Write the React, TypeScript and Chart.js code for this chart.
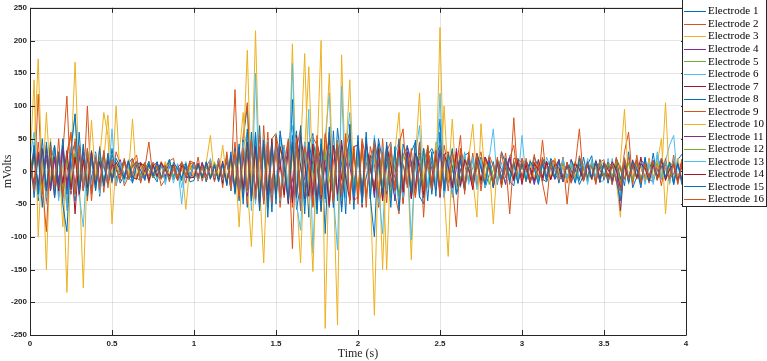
import React, { useEffect, useRef } from "react";
import { Chart, registerables } from "chart.js";
Chart.register(...registerables);

// sample times (s), 0.025 s spacing
const TIME: number[] = Array.from({ length: 161 }, (_, i) => Math.round(i * 25) / 1000);

const X_TICKS = [0, 0.5, 1, 1.5, 2, 2.5, 3, 3.5, 4];
const Y_TICKS = [-250, -200, -150, -100, -50, 0, 50, 100, 150, 200, 250];

const LABELS = [
  "Electrode 1", "Electrode 2", "Electrode 3", "Electrode 4",
  "Electrode 5", "Electrode 6", "Electrode 7", "Electrode 8",
  "Electrode 9", "Electrode 10", "Electrode 11", "Electrode 12",
  "Electrode 13", "Electrode 14", "Electrode 15", "Electrode 16",
];

const COLORS = [
  "#0072BD", "#D95319", "#EDB120", "#7E2F8E", "#77AC30", "#4DBEEE", "#A2142F",
  "#0072BD", "#D95319", "#EDB120", "#7E2F8E", "#77AC30", "#4DBEEE", "#A2142F",
  "#0072BD", "#D95319",
];

const E1 = [
  -20, 35, -45, 28, -30, 15, 40, -25, 30, -55, 22, 45, -38, 20, -15, 32, -28, 18, 10, -22,
  25, 8, -18, -5, 12, 20, -10, -14, 3, 15, -6, -16, 12, 4, 18, -10, -4, -14, 9, 2,
  14, -12, 7, -15, 11, -9, 16, -20, 24, -30, 35, -45, 50, 100, -40, 60, -55, 45, -70, 38,
  -25, 55, 20, -48, 30, 62, -60, -20, 40, 58, -65, 42, -95, 48, -50, 66, 10, -40, 35, -58,
  45, -30, -10, 25, -40, 50, 15, -35, 28, -45, 38, 10, -20, 30, 45, -38, -50, 25, 35, 20,
  80, -40, 10, 30, -35, -15, 25, 28, -18, 5, 22, -25, -5, 15, -20, 30, 12, -15, -22, 18,
  14, 2, -18, 22, 6, -12, -16, 20, 10, -8, 12, -14, 18, 4, -20, -6, 10, 24, -15, 8,
  -10, 12, -14, 20, 5, -22, 30, -25, -8, 18, 10, -12, -16, 22, 6, -10, 14, -20, 18, 26,
  5,
];
const E2 = [
  15, -28, 118, -35, 40, -22, 35, -40, 28, 115, -30, 50, -25, 40, -45, 30, -20, 38, -32, 25,
  -18, 30, 12, -22, -8, 14, 25, -15, 5, 45, -10, 8, -22, -12, 16, 20, -14, 4, -18, 16,
  -10, 22, -15, 8, 18, -12, 20, -25, 30, -20, 45, -35, 55, 105, -45, 40, -60, 70, -35, 50,
  58, 20, -40, 45, -55, 35, 65, -48, -20, 52, 40, -62, 55, 10, -35, 48, -42, 38, 60, -45,
  -38, 50, 15, -28, 40, -55, -20, 30, 45, -35, -65, 25, 38, -30, 40, -22, 35, 12, -28, 30,
  -25, 40, 5, -20, -85, 35, 10, -15, 28, -22, 18, -12, 25, 8, -18, 30, -10, 20, 40, -18,
  20, -12, -5, 26, -15, 48, -14, 6, 20, -10, 22, -18, 12, -16, 24, 3, -8, 14, -20, 18,
  -12, 10, -15, 22, -18, 30, 60, -20, 15, 5, -12, 20, -16, 12, -22, 18, -10, 25, -14, 16,
  8,
];
const E3 = [
  5, 30, 172, -20, 90, -15, 25, -30, 10, -185, 20, 167, -10, -178, 15, 25, -12, 20, 18, 86,
  -15, 100, -10, 15, -8, 80, -12, 10, -6, 14, -10, 8, -12, 15, -5, 10, -8, 12, -6, 9,
  -10, 12, -8, 14, 55, -10, 8, -12, 15, -18, 20, -85, 25, 185, -30, 215, -20, -140, 30, -25,
  35, -30, 20, -40, 195, -35, -140, 30, 160, -20, 25, 200, -240, 30, -20, -235, 178, -25, 20, -30,
  35, -25, 40, -30, -220, 30, -150, 25, -20, 30, 90, -35, 20, -135, 25, -30, 20, -25, 15, -20,
  220, -30, -130, 25, -20, 15, -25, 20, 72, -15, 18, -20, 12, -80, 15, -10, 20, -14, 10, -16,
  12, -10, 18, -14, 8, -12, 15, -10, 20, -8, 12, -14, 10, -16, 14, -8, 10, -12, 18, -10,
  12, -15, 8, -10, 14, 95, -20, 15, -12, 10, -14, 18, -10, 12, 50, -65, 15, -10, 20, -12,
  6,
];
const E4 = [
  -10, 20, -25, 15, -30, 22, -15, 28, -20, 12, -35, 25, -18, 30, -22, 15, -12, 20, -16, 10,
  -14, 5, 18, -8, -12, 10, 15, -6, 2, -12, 8, 14, -9, -7, 11, 3, -13, 6, 12, -5,
  -8, 13, -11, 7, -9, 12, -14, 10, -18, 22, -30, 35, -40, 28, -45, 38, -30, 42, -50, 35,
  -28, 10, 40, -35, -15, 45, -38, 30, 5, -42, 36, -25, 48, 12, -40, 32, -55, 40, 8, -30,
  35, -45, 28, 10, -38, 42, -30, 36, -25, -5, 40, -48, 30, -35, 28, 12, -40, 32, -22, 38,
  -30, 25, 5, -35, 35, -20, 18, 2, -25, 15, -20, 22, 8, -12, 18, -15, 20, -10, 14, -18,
  12, -16, 10, 4, -12, 16, -8, 15, -12, -3, 10, -14, 18, -9, 12, 5, -15, 10, -11, 16,
  -13, 8, 12, -10, -30, 14, -12, 6, 18, -15, 10, -13, 17, 3, -9, 12, -16, 10, -14, 18,
  -6,
];
const E5 = [
  12, -18, 22, -28, 18, -15, 25, -20, 30, -26, 14, 28, -22, 18, -30, 20, -14, 16, -20, 12,
  10, 2, -12, 15, 6, -9, -11, 13, -7, 4, 10, -12, 6, 9, -8, -6, 10, -11, 7, 3,
  11, -9, 6, -12, 10, -7, 13, -10, 15, -20, 25, -30, 32, -25, 36, -35, 28, -40, 30, -26,
  38, -32, -10, 28, 40, -36, 12, -30, 34, -42, 26, 5, -35, 38, -28, 44, -10, -36, 30, 25,
  -25, 36, -40, 12, 28, -30, 35, -26, -8, 30, -38, 25, 10, -32, 28, -22, 34, 5, -30, 20,
  -26, 25, 8, -20, 18, -15, 22, 4, -18, 12, -16, 20, 6, -12, 15, -18, 10, 2, -14, 16,
  -10, 12, 5, -15, 18, -9, 14, -12, 10, 3, -15, 12, -8, 16, -11, 9, -14, 12, 4, -10,
  15, -8, 11, -13, 9, -12, 14, 6, -10, 12, -9, -14, 15, -10, 20, -12, 9, 13, -14, 10,
  4,
];
const E6 = [
  -25, 45, -40, 30, -50, 25, 35, -45, 28, -60, 32, 87, -35, -85, 30, -28, 22, -20, 30, -18,
  20, -15, 12, -18, 10, -14, 16, -9, 12, -15, 8, -12, 14, -20, 10, -18, 12, -25, 15, -10,
  12, -14, 10, -16, 20, -12, 15, -18, 22, -25, 30, -28, 35, 60, -60, 150, -40, 50, -35, 45,
  -40, 55, -30, 45, 70, -45, 38, -50, 95, -125, 40, -35, 50, 120, -55, 40, -45, 35, 90, -40,
  30, -45, 40, -35, 55, -30, -95, 35, -40, 28, 45, -30, 35, -40, 25, 70, -35, 30, -25, 40,
  60, -30, 28, -40, 22, -25, 30, -20, 18, -28, 15, -22, 20, 65, -18, 14, -20, 25, -15, 18,
  -12, 16, 4, -20, 12, -15, 22, 5, -10, 18, -14, 10, -18, 3, 15, -12, 20, -9, 14, -16,
  -14, 20, -12, 16, -35, 22, -18, 14, -10, 18, -15, 12, -20, 25, -12, 16, 40, 55, -18, 12,
  -8,
];
const E7 = [
  18, -25, 30, -20, 35, -28, 22, -30, 40, -18, 25, -65, 30, -22, 28, -15, 20, -25, 15, -18,
  12, 4, -10, 16, -12, -5, 9, 14, -8, 11, -10, 3, 13, -12, 7, 10, -9, 14, -7, -11,
  9, -11, 14, -8, 12, -10, 15, -18, 20, -26, 30, -35, 38, -30, 42, -45, 35, -38, 50, -40,
  45, 10, -36, 40, -48, 55, 8, -42, 38, -52, 44, 15, -35, 60, -45, 36, -10, -40, 50, -38,
  42, -55, 35, 5, -30, 40, -45, 35, 12, -30, 46, -38, 30, -42, 10, 28, -35, 38, -25, 32,
  -40, 26, 30, -25, 20, 2, -28, 22, -18, 25, 8, -15, 20, -22, 14, -18, 5, 22, -12, 16,
  -20, 12, 6, -15, 18, -10, 15, -12, 4, 18, -14, 10, -16, 12, 2, -9, 15, -13, 11, -17,
  14, 3, -10, 16, -12, 9, -14, 12, -11, 22, -15, 7, 12, -10, 17, -14, 4, 11, -15, 13,
  5,
];
const E8 = [
  30, -40, 25, -55, 45, -30, 38, -20, 50, -35, 28, -45, 60, -30, 35, -25, 30, -38, 22, -15,
  35, -12, 4, 18, -10, -16, 14, 10, -12, 15, -9, 2, 12, -14, 18, -10, 8, -13, 11, -7,
  14, -9, 12, -16, 10, -12, 18, -14, 20, -25, 35, -40, 48, -55, 60, -45, 70, -50, 40, -62,
  55, -48, 20, -40, 110, -58, -20, 45, -70, 50, 10, -60, 38, -55, 62, -45, 40, -65, 72, -38,
  45, -50, 52, -40, -100, 42, -38, 10, 30, -45, 50, -35, 40, 15, -28, 45, -40, 30, -35, 25,
  40, -28, 5, 35, -22, 25, -30, 18, -20, 24, 8, -15, 20, -18, 12, -22, 16, 4, -14, 20,
  -10, 15, -18, 12, -15, 20, 6, -10, 14, -18, 10, -12, 16, 2, -14, 22, -10, 12, -16, 18,
  -11, 14, -20, 10, -12, 15, -18, 12, 3, -25, 20, -14, 28, -12, 16, -10, 14, -20, 12, -15,
  3,
];
const E9 = [
  -20, 35, -30, 25, -45, 40, -25, 30, -38, 22, 55, -40, 35, -28, 100, -35, 28, -20, 32, -25,
  18, -22, 5, 15, -10, 20, -12, 3, 14, -18, 10, -8, 15, 2, -12, 9, -14, 12, -6, 16,
  13, -15, 9, -12, 16, -10, 20, -14, 25, -20, 125, -35, 40, -50, 45, -38, 55, -42, 60, -48,
  40, -55, 12, 50, -35, 45, -60, 38, 8, -45, 55, -40, 48, -52, 15, 42, -38, 58, -50, 35,
  -42, 46, -55, 38, 10, -45, 50, -30, 42, -38, 35, -50, 28, 5, -40, 45, -70, 30, 12, -25,
  35, -30, 28, 4, -22, 35, -18, 25, -20, 8, 30, -15, 22, -25, 18, -12, 28, -20, 82, -15,
  20, 5, -18, 14, -12, 22, -16, 10, 3, -14, 18, -50, 15, -10, 20, 6, -14, 12, -18, 16,
  -9, 14, -20, 18, 4, -12, 22, -16, 25, -14, 10, -18, 16, 2, -12, 20, -15, 12, -20, 18,
  10,
];
const E10 = [
  10, 140, -100, 25, -150, 50, -20, 30, -85, 25, -30, 20, -15, 18, -25, 78, -12, 20, 90, 55,
  -80, 15, -10, 12, -8, 14, -12, 10, -6, 12, -9, 8, -11, 14, -7, 9, -10, 12, -58, 10,
  -8, 12, -10, 9, -12, 15, -9, 40, -14, 12, -20, 25, 90, -20, -115, 30, -25, 35, -30, 28,
  -25, 35, 40, -30, 28, -35, 30, 180, -25, -153, 30, -28, 25, 150, -30, 28, -35, 25, 140, -30,
  25, -35, 30, -28, 20, -25, 30, -150, 22, -30, 25, -20, 30, -25, 18, 120, -22, 40, -18, 45,
  -20, 100, -15, 80, -25, 18, -15, 20, -12, -70, 73, -14, 18, -12, 15, -20, 12, -10, 16, -14,
  10, -12, 14, -9, 12, -15, 10, -8, 13, -11, 9, -14, 12, -10, 15, -8, 11, -13, 9, -12,
  14, -10, 12, -15, -70, 20, -12, 15, -10, 12, -14, 9, -12, 16, -10, 105, -20, 14, -12, 10,
  -5,
];
const E11 = [
  15, -22, 28, -18, 25, -30, 20, -15, 32, -25, 18, -20, 26, -28, 20, -12, 25, -18, 14, -20,
  12, -9, -4, 16, -11, 8, 13, -13, 2, 10, -7, 14, -10, 3, 9, -12, 6, 13, -10, -8,
  10, -8, 13, -11, 9, -14, 12, -10, 20, -18, 28, -32, 25, -38, 40, -30, 36, -45, 32, -28,
  42, -35, 8, 30, -40, 38, -28, -10, 45, -36, 32, -42, 15, 28, -38, 40, -30, 5, 35, -44,
  26, -32, 38, 10, -25, 30, -36, 25, -8, -40, 32, -28, 36, 12, -24, 28, -34, 20, 4, -28,
  32, -22, 26, -30, 5, 18, -24, 22, -20, 28, 6, -22, 18, -25, 15, 3, -20, 22, -14, 18,
  -12, 16, 4, -20, 10, -15, 14, 8, -12, 18, -10, 12, -16, 5, 10, -14, 12, -10, 16, 2,
  -9, 13, -15, 11, -60, 14, -12, 10, 3, -16, 12, -9, 15, -11, 8, 13, -10, -4, 12, -13,
  4,
];
const E12 = [
  -12, 20, -25, 18, -22, 28, -16, 24, -30, 20, -18, 26, -20, 15, -24, 18, -10, 22, -15, 12,
  -10, 6, 13, -8, -12, 11, 9, -7, 12, 2, -10, 8, -11, 6, 12, -9, -8, 10, 11, -6,
  -10, 8, -12, 10, -7, 13, -9, 11, -15, 18, -22, 28, -30, 35, -28, 32, -38, 30, -34, 40,
  -30, 36, 10, -42, 28, 35, -32, 38, -26, 8, 44, -36, 30, -12, -40, 34, 28, -30, 42, -35,
  26, -32, 30, 5, -28, 36, -25, 32, -38, 10, 28, -30, 24, -34, 8, 26, -22, 30, -20, 15,
  -22, 25, -18, 4, 20, -15, 22, -12, 6, 18, -16, 14, -20, 3, 12, -14, 18, -10, 15, -12,
  10, -16, 14, 5, -12, 10, -14, 12, -9, 2, 15, -11, 8, -13, 10, 4, -15, 12, -8, 14,
  -10, 12, -9, 15, -18, 10, 12, -14, 14, -12, 10, -15, 3, 12, -9, 14, -11, 15, -13, 8,
  -3,
];
const E13 = [
  20, 60, -35, 28, -40, 35, -30, 22, -45, 30, 25, -38, 40, -25, 32, -20, 28, -35, 18, -22,
  65, -20, 14, -12, 18, -10, 12, -15, 9, -11, 14, -8, 12, -16, 10, -13, 8, -50, 12, -9,
  11, -14, 8, -12, 15, -10, 18, -12, 22, -28, 30, -38, 45, -32, 40, -50, 35, -42, 48, -36,
  42, -45, 38, -40, 165, -50, -90, 45, -38, 50, -42, 35, -48, 40, -35, -120, 130, -40, 45, -38,
  40, -50, 35, -42, 30, -45, 38, -30, 42, -35, 28, -40, 32, -105, 30, -28, 35, -22, 30, -25,
  119, -35, 25, -30, 20, -22, 28, -18, 22, -15, 18, -25, 14, -20, 16, -12, 20, -15, 12, -18,
  55, -14, 12, 6, -18, 10, -15, 16, 2, -12, 20, -10, 14, -16, 4, 12, -20, 18, -10, 14,
  12, -18, 20, -14, -40, 16, -12, 18, -10, 14, -20, 12, -15, 30, -12, 16, -18, 20, -14, 10,
  -6,
];
const E14 = [
  -15, 28, -22, 35, -30, 20, -40, 25, -18, 32, -28, 22, -35, 18, -25, 30, -20, 15, -22, 18,
  -12, 14, 3, -10, 16, -9, -12, 12, 8, -14, 11, -8, 13, 2, -7, 10, -12, 9, 5, -10,
  -9, 12, -10, 14, -11, 8, -13, 16, -20, 25, -32, 38, -28, 45, -40, 35, -48, 42, -36, 50,
  -42, 38, 10, -50, 45, -40, 55, 12, -38, 42, -46, 36, 8, -52, 40, -35, 48, -10, -44, 38,
  40, -38, 42, 6, -30, 35, -45, 40, 10, -28, 38, -32, 30, -40, 28, 5, -35, 38, -25, 30,
  -32, 26, 8, -25, 30, -22, 18, 4, -28, 20, -15, 22, 6, -18, 14, -20, 16, 2, -12, 18,
  -14, 10, -16, 12, 3, -10, 15, -13, 11, 6, -16, 14, -10, 12, 4, -15, 9, -12, 16, -11,
  13, -9, 15, 2, -25, 10, -12, 17, -10, 12, 5, -15, 10, -13, 18, -12, 3, 11, -14, 9,
  2,
];
const E15 = [
  -25, 40, -35, 50, -28, 45, -40, 30, -50, -92, 35, 88, -30, 42, -38, 25, -30, 35, -22, 28,
  -15, 20, 6, -12, 16, -18, 10, 2, -14, 12, -8, 15, -11, 9, -13, 14, 4, -10, 12, -16,
  -14, 11, -9, 15, -12, 10, -16, 13, -22, 30, -35, 42, -50, 65, -45, 58, -60, 48, -55, 40,
  -50, 62, 15, -45, 55, -40, 70, -65, 45, 10, -58, 50, -42, 68, -55, 40, -62, 20, 48, -38,
  55, -48, 60, -42, 50, 10, -36, 45, -55, 38, -60, 42, 15, -30, 48, -40, 35, -45, 30, -38,
  60, -30, 25, 8, -35, 20, -28, 22, -18, 26, 5, -20, 15, -24, 18, -12, 20, -16, 14, -18,
  12, -14, 16, 4, -20, 12, -14, 18, -10, 15, -16, 12, 2, -18, 20, -12, 14, -10, 16, -15,
  12, -18, 10, -14, -45, 18, -12, 15, 5, -20, 22, -14, 16, -12, 20, -10, 14, -16, 12, -20,
  -4,
];
const E16 = [
  25, -30, 45, -20, -92, 38, -25, 50, -40, 28, 60, -35, 40, -30, 35, -45, 22, -28, 30, -20,
  18, 5, -14, 20, -10, -2, 15, -18, 12, -8, 14, 6, -12, 10, -16, 8, -11, 15, -9, 12,
  13, -11, 9, -14, 12, -16, 15, -10, 22, -28, 30, -40, 35, -30, 48, -42, 38, -50, 45, -35,
  52, -40, 10, 45, -118, 50, -42, 38, 5, -55, 46, -36, 58, 20, -48, 40, -35, 52, -44, 38,
  -50, 42, -35, 12, 45, -40, 30, -48, 38, -30, 42, 65, -25, 35, -38, 10, -30, 40, -28, 32,
  -35, 25, -30, 28, 5, 55, -35, 30, -22, 25, -30, 18, 2, -18, 22, -25, 15, -65, 20, 18,
  -12, 20, -14, 4, 12, -18, -50, 15, 16, -10, -12, 14, -18, 10, 65, -15, 12, 6, -16, 14,
  18, -14, 12, -16, -30, 20, -12, 10, 15, -18, 12, -10, 16, -14, 20, 4, -12, 15, -18, 10,
  5,
];

const SERIES = [E1, E2, E3, E4, E5, E6, E7, E8, E9, E10, E11, E12, E13, E14, E15, E16];

const AXIS_COLOR = "#262626";
const SERIF = "'Liberation Serif', 'Times New Roman', serif";
const SANS = "'Liberation Sans', Arial, sans-serif";

const framePlugin = {
  id: "matlabFrame",
  afterDatasetsDraw(chart: any) {
    const { ctx, chartArea } = chart;
    const { left, right, top, bottom } = chartArea;
    const xs = chart.scales.x;
    const ys = chart.scales.y;
    ctx.save();
    ctx.strokeStyle = AXIS_COLOR;
    ctx.lineWidth = 1;
    ctx.beginPath();
    ctx.rect(Math.round(left) + 0.5, Math.round(top) + 0.5, Math.round(right - left), Math.round(bottom - top));
    ctx.stroke();
    const tl = 5;
    ctx.beginPath();
    X_TICKS.forEach((v) => {
      const px = Math.round(xs.getPixelForValue(v)) + 0.5;
      ctx.moveTo(px, bottom);
      ctx.lineTo(px, bottom - tl);
      ctx.moveTo(px, top);
      ctx.lineTo(px, top + tl);
    });
    Y_TICKS.forEach((v) => {
      const py = Math.round(ys.getPixelForValue(v)) + 0.5;
      ctx.moveTo(left, py);
      ctx.lineTo(left + tl, py);
      ctx.moveTo(right, py);
      ctx.lineTo(right - tl, py);
    });
    ctx.stroke();
    ctx.restore();
  },
  afterDraw(chart: any) {
    const { ctx, chartArea } = chart;
    ctx.save();
    ctx.fillStyle = AXIS_COLOR;
    ctx.font = `12px ${SERIF}`;
    ctx.textAlign = "center";
    ctx.textBaseline = "middle";
    ctx.fillText("Time (s)", (chartArea.left + chartArea.right) / 2, 354);
    ctx.save();
    ctx.translate(8, (chartArea.top + chartArea.bottom) / 2);
    ctx.rotate(-Math.PI / 2);
    ctx.fillText("mVolts", 0, 0);
    ctx.restore();

    // legend box
    const lx = 682.5;
    const ly = -0.5;
    const lw = 84;
    const lh = 207;
    ctx.fillStyle = "#ffffff";
    ctx.fillRect(lx, ly, lw, lh);
    ctx.strokeStyle = AXIS_COLOR;
    ctx.lineWidth = 1;
    ctx.strokeRect(lx, ly, lw, lh);
    ctx.font = `11px ${SERIF}`;
    ctx.textAlign = "left";
    ctx.textBaseline = "middle";
    LABELS.forEach((lab, k) => {
      const y = 11 + k * 12.53;
      ctx.strokeStyle = COLORS[k];
      ctx.lineWidth = 1;
      ctx.beginPath();
      ctx.moveTo(684, Math.round(y) + 0.5);
      ctx.lineTo(706, Math.round(y) + 0.5);
      ctx.stroke();
      ctx.fillStyle = "#000000";
      ctx.fillText(lab, 708, y + 0.5);
    });
    ctx.restore();
  },
};

export default function App() {
  const ref = useRef<HTMLCanvasElement | null>(null);
  useEffect(() => {
    document.body.style.margin = "0";
    const canvas = ref.current;
    if (!canvas) return;
    const datasets = SERIES.map((arr, k) => ({
      label: LABELS[k],
      data: arr.map((v, i) => ({ x: TIME[i], y: v })),
      borderColor: COLORS[k],
      backgroundColor: COLORS[k],
      borderWidth: 1,
      pointRadius: 0,
      tension: 0,
      fill: false,
      order: SERIES.length - 1 - k,
    }));
    const chart = new Chart(canvas, {
      type: "line",
      data: { datasets },
      options: {
        animation: false,
        responsive: false,
        devicePixelRatio: 1,
        layout: { padding: { left: 0, top: 3, right: 81, bottom: 0 } },
        plugins: { legend: { display: false }, tooltip: { enabled: false } },
        scales: {
          x: {
            type: "linear",
            min: 0,
            max: 4,
            afterFit: (s: any) => { s.height = 26; },
            afterBuildTicks: (s: any) => { s.ticks = X_TICKS.map((v) => ({ value: v })); },
            grid: { color: "rgba(38,38,38,0.12)", drawTicks: false },
            border: { display: false },
            ticks: {
              padding: 4,
              color: AXIS_COLOR,
              font: { family: SANS, size: 8, weight: "bold" },
              maxRotation: 0,
              callback: (v: any) => String(v),
            },
          },
          y: {
            type: "linear",
            min: -250,
            max: 250,
            afterFit: (s: any) => { s.width = 30; },
            afterBuildTicks: (s: any) => { s.ticks = Y_TICKS.map((v) => ({ value: v })); },
            grid: { color: "rgba(38,38,38,0.12)", drawTicks: false },
            border: { display: false },
            ticks: {
              padding: 3,
              color: AXIS_COLOR,
              font: { family: SANS, size: 8, weight: "bold" },
              callback: (v: any) => String(v),
            },
          },
        },
      },
      plugins: [framePlugin],
    });
    return () => chart.destroy();
  }, []);
  return (
    <div style={{ width: 767, height: 361, position: "relative", background: "#fff" }}>
      <canvas ref={ref} width={767} height={361} style={{ display: "block" }} />
    </div>
  );
}
